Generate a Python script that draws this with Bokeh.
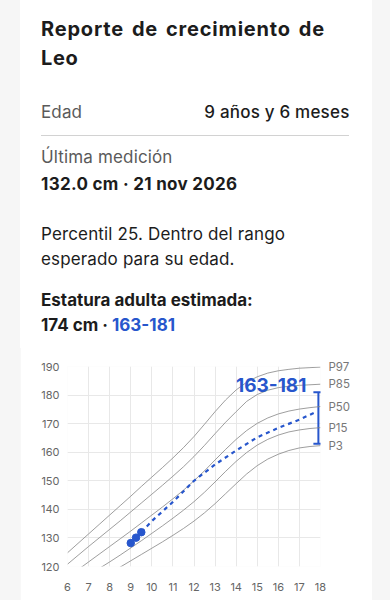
from bokeh.plotting import figure
from bokeh.models import (ColumnDataSource, Label, FixedTicker, Whisker,
                          TeeHead, LinearAxis, Div)
from bokeh.layouts import column
from bokeh.embed import file_html
from bokeh.resources import INLINE

# ---------------- data ----------------
AGES = [6, 6.5, 7, 7.5, 8, 8.5, 9, 9.5, 10, 10.5, 11, 11.5, 12, 12.5,
        13, 13.5, 14, 14.5, 15, 15.5, 16, 16.5, 17, 17.5, 18]
P97 = [124.8, 128.1, 131.4, 134.7, 138.0, 141.3, 144.6, 148.0, 151.3, 154.6, 158.0, 161.6,
       165.5, 169.8, 174.2, 178.3, 181.8, 184.5, 186.4, 187.7, 188.5, 189.0, 189.4, 189.6, 189.8]
P85 = [120.8, 123.9, 127.0, 130.0, 133.0, 136.0, 139.1, 142.2, 145.3, 148.4, 151.6, 154.9,
       158.5, 162.4, 166.5, 170.5, 174.2, 177.8, 180.2, 181.7, 182.6, 183.1, 183.4, 183.6, 183.8]
P50 = [116.2, 118.9, 121.6, 124.3, 127.0, 129.7, 132.4, 135.2, 138.0, 140.8, 143.7, 146.7,
       150.0, 153.5, 157.3, 161.0, 164.5, 167.6, 170.1, 172.0, 173.4, 174.4, 175.1, 175.6, 176.0]
P15 = [112.0, 114.5, 117.0, 119.3, 121.6, 124.0, 126.5, 129.0, 131.6, 134.2, 136.9, 139.7,
       142.7, 146.0, 149.6, 153.3, 156.8, 159.9, 162.5, 164.5, 166.0, 167.1, 167.8, 168.3, 168.6]
P3 = [109.0, 111.2, 113.4, 115.5, 117.7, 119.8, 122.0, 124.2, 126.4, 128.6, 130.9, 133.3,
      135.9, 138.8, 142.0, 145.5, 149.0, 152.4, 155.3, 157.6, 159.3, 160.6, 161.5, 162.0, 162.3]
PCT_NAMES = ["P97", "P85", "P50", "P15", "P3"]

MEAS_AGE = [9.0, 9.25, 9.5]
MEAS_CM = [128.2, 130.1, 132.0]

PROJ_AGE = [9.5, 10, 11, 12, 13, 14, 15, 16, 17, 17.75]
PROJ_CM = [132.0, 135.9, 142.6, 150.0, 155.7, 160.6, 165.2, 168.5, 171.4, 174.0]

RANGE_AGE = [17.9]
RANGE_LOW = [163]
RANGE_HIGH = [181]

AGE_TICKS = [6, 7, 8, 9, 10, 11, 12, 13, 14, 15, 16, 17, 18]
CM_TICKS = [120, 130, 140, 150, 160, 170, 180, 190]

FONT = "Inter"
BLUE = "#2756cc"
DARK = "#1c1c1c"
GREY = "#5a5a5a"

CARD_X = 20          # page x of the card
HEAD_H = 345         # height of the text header
ASC = 0.96875        # Inter ascent (em)


# ---------------- header (texts) ----------------
def line(s, x, base, size=17, weight=400, color=DARK, align="left", ls=0.15, ws=0.0):
    top = base - ASC * size
    if align == "left":
        pos = f"left:{x - CARD_X}px;"
    else:
        pos = f"right:{352 - (x - CARD_X) - ls}px;text-align:right;"
    return (f'<div style="position:absolute;{pos}top:{top:.1f}px;font-size:{size}px;'
            f'line-height:1.2102;font-weight:{weight};color:{color};white-space:nowrap;'
            f'letter-spacing:{ls}px;word-spacing:{ws}px">{s}</div>')


parts = [
    line("Reporte de crecimiento de", 41, 36.7, 20, 700, ls=0.8, ws=2.5),
    line("Leo", 41, 65, 20, 700, ls=0.6),
    line("Edad", 41, 118.3, color=GREY),
    line("9 años y 6 meses", 349.3, 118.3, weight=500, align="right", ls=0.2),
    f'<div style="position:absolute;left:{41 - CARD_X}px;top:134.5px;width:308px;'
    f'height:1px;background:#d2d2d2"></div>',
    line("Última medición", 41, 163.3, color=GREY),
    line("132.0 cm · 21 nov 2026", 41, 190, weight=700, ls=0.3),
    line("Percentil 25. Dentro del rango", 41, 240),
    line("esperado para su edad.", 41, 265),
    line("Estatura adulta estimada:", 41, 306, weight=700, ls=0.0),
    line(f'174 cm · <span style="color:{BLUE}">{RANGE_LOW[0]}-{RANGE_HIGH[0]}</span>',
         41, 331, weight=700, ls=0.0),
]
html = (f'<div style="position:relative;width:352px;height:{HEAD_H}px;'
        f'font-family:{FONT},sans-serif;background:white">' + "".join(parts) + "</div>")
head = Div(text=html, width=352, height=HEAD_H, margin=(0, 18, 0, 20),
           styles={"background-color": "white", "box-shadow": "0 3px 0 white"})

# ---------------- chart ----------------
p = figure(width=352, height=600 - HEAD_H, x_range=(6, 18), y_range=(120, 190),
           output_backend="svg", toolbar_location=None,
           min_border_left=47, min_border_right=52, min_border_top=366 - HEAD_H,
           min_border_bottom=34, margin=(0, 18, 0, 20))
p.background_fill_color = "white"
p.border_fill_color = "white"
p.outline_line_color = None

p.xaxis.ticker = FixedTicker(ticks=AGE_TICKS)
p.yaxis.ticker = FixedTicker(ticks=CM_TICKS)

ends = [P97[-1], P85[-1], P50[-1], P15[-1], P3[-1]]
raxis = LinearAxis(ticker=FixedTicker(ticks=ends),
                   major_label_overrides={e: n for e, n in zip(ends, PCT_NAMES)})
p.add_layout(raxis, "right")

for ax in (p.xaxis[0], p.yaxis[0], raxis):
    ax.axis_line_color = None
    ax.major_tick_line_color = None
    ax.minor_tick_line_color = None
    ax.major_tick_out = 0
    ax.major_tick_in = 0
    ax.major_label_text_font = FONT
    ax.major_label_text_font_size = "11px"
    ax.major_label_text_color = "#666666"
p.yaxis[0].major_label_standoff = 8
p.xaxis[0].major_label_standoff = 16
raxis.major_label_standoff = 8
raxis.major_label_text_font_size = "11.5px"
raxis.major_label_text_color = "#777777"
p.xgrid.grid_line_color = "#e8e8e8"
p.ygrid.grid_line_color = "#e8e8e8"
p.xgrid.ticker = FixedTicker(ticks=AGE_TICKS)
p.ygrid.ticker = FixedTicker(ticks=CM_TICKS)

for vals in (P97, P85, P50, P15, P3):
    p.line(AGES, vals, line_color="#858585", line_width=0.8)

p.line(PROJ_AGE, PROJ_CM, line_color=BLUE, line_width=2.2, line_dash="4 4")
p.line(MEAS_AGE, MEAS_CM, line_color=BLUE, line_width=2)
p.scatter(MEAS_AGE, MEAS_CM, size=7.5, fill_color=BLUE, line_color=BLUE)

err_src = ColumnDataSource(dict(base=RANGE_AGE, lower=RANGE_LOW, upper=RANGE_HIGH))
p.add_layout(Whisker(source=err_src, base="base", lower="lower", upper="upper",
                     dimension="height", line_color=BLUE, line_width=2,
                     upper_head=TeeHead(size=10, line_color=BLUE, line_width=2),
                     lower_head=TeeHead(size=10, line_color=BLUE, line_width=2)))

p.add_layout(Label(x=RANGE_AGE[0], y=RANGE_HIGH[0], x_offset=-12, y_offset=7,
                   text=f"{RANGE_LOW[0]}-{RANGE_HIGH[0]}", text_align="right",
                   text_baseline="alphabetic", text_font=FONT, text_font_size="19px",
                   text_font_style="bold", text_color=BLUE))

root = column(head, p, width=390, height=600, spacing=0,
              styles={"background-color": "#f6f6f6"})

open("out.html", "w").write(file_html(root, INLINE))
